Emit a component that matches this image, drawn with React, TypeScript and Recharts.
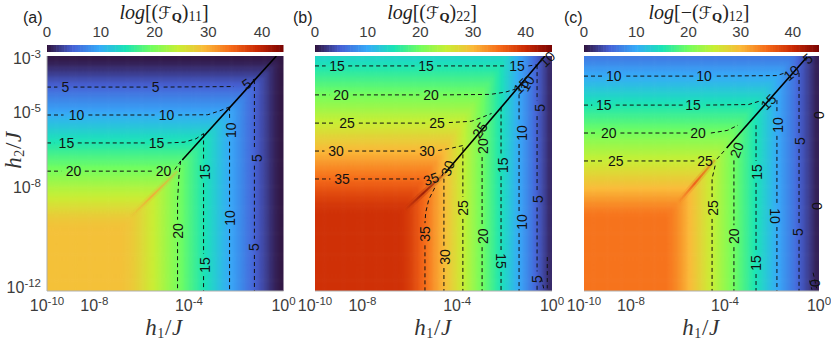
import { ComposedChart, Line, Scatter, XAxis, YAxis } from 'recharts'

// colormap stops (turbo)
const turboStops = ['#30123b', '#4662d7', '#36aaf9', '#1ae4b6', '#72fe5e', '#c8ef34', '#faba39', '#f66b19', '#cb2a04', '#7a0403']

const xTicks = [-10, -8, -4, 0]
const yTicks = [-12, -8, -5, -3]
const barTicks = [0, 10, 20, 30, 40]

// cell centres of the heat map, log10(h1/J) and log10(h2/J)
const h1Columns = [
  -9.9, -9.7, -9.5, -9.3, -9.1, -8.9, -8.7, -8.5, -8.3, -8.1, -7.9, -7.7, -7.5, -7.3, -7.1, -6.9, -6.7, -6.5, -6.3, -6.1, -5.9, -5.7, -5.5, -5.3, -5.1,
  -4.9, -4.7, -4.5, -4.3, -4.1, -3.9, -3.7, -3.5, -3.3, -3.1, -2.9, -2.7, -2.5, -2.3, -2.1, -1.9, -1.7, -1.5, -1.3, -1.1, -0.9, -0.7, -0.5, -0.3, -0.1,
]
const h2Rows = [
  -3.1, -3.3, -3.5, -3.7, -3.9, -4.1, -4.3, -4.5, -4.7, -4.9, -5.1, -5.3, -5.5, -5.7, -5.9, -6.1, -6.3, -6.5, -6.7, -6.9, -7.1, -7.3, -7.5,
  -7.7, -7.9, -8.1, -8.3, -8.5, -8.7, -8.9, -9.1, -9.3, -9.5, -9.7, -9.9, -10.1, -10.3, -10.5, -10.7, -10.9, -11.1, -11.3, -11.5, -11.7, -11.9,
]

const columnValuesA = [
  28.7, 28.7, 28.7, 28.7, 28.7, 28.7, 28.7, 28.7, 28.7, 28.7, 28.7, 28.7, 28.7, 28.7, 28.7, 28.7, 28.5, 28.2, 27.7, 27, 26.2, 25.4, 24.6, 23.7, 22.8,
  21.9, 21, 20.1, 19.2, 18.2, 17.3, 16.4, 15.5, 14.5, 13.6, 12.7, 11.7, 10.8, 9.9, 9, 8.1, 7.2, 6.2, 5.3, 4.4, 3.5, 2.6, 1.6, 0.8, 0.3,
]
const rowValuesA = [
  0.4, 0.9, 1.8, 2.7, 3.7, 4.6, 5.5, 6.5, 7.4, 8.3, 9.2, 10.2, 11.1, 12, 13, 13.9, 14.8, 15.7, 16.7, 17.6, 18.5, 19.5, 20.4,
  21.3, 22.2, 23.2, 24, 24.9, 25.8, 26.7, 27.5, 28.1, 28.5, 28.7, 28.7, 28.7, 28.7, 28.7, 28.7, 28.7, 28.7, 28.7, 28.7, 28.7, 28.7,
]
const columnValuesB = [
  39.5, 39.5, 39.5, 39.5, 39.5, 39.5, 39.5, 39.5, 39.5, 39.5, 39.5, 39.5, 39.5, 39.5, 39.5, 39.5, 39.5, 39.5, 39.3, 38.8, 38, 37, 35.8, 34.6, 33.4,
  32.1, 30.9, 29.6, 28.4, 27.2, 25.9, 24.7, 23.4, 22.2, 20.9, 19.7, 18.4, 17.2, 15.9, 14.6, 13.3, 12, 10.7, 9.4, 8.1, 6.8, 5.4, 4.1, 2.9, 1.5,
]
const rowValuesB = [
  13.7, 14.6, 15.5, 16.5, 17.4, 18.3, 19.2, 20.2, 21.1, 22, 22.9, 23.9, 24.8, 25.7, 26.6, 27.6, 28.5, 29.4, 30.3, 31.2, 32.2, 33.1, 34,
  34.9, 35.9, 36.8, 37.6, 38.3, 38.9, 39.3, 39.5, 39.5, 39.5, 39.5, 39.5, 39.5, 39.5, 39.5, 39.5, 39.5, 39.5, 39.5, 39.5, 39.5, 39.5,
]
const columnValuesC = [
  34.5, 34.5, 34.5, 34.5, 34.5, 34.5, 34.5, 34.5, 34.5, 34.5, 34.5, 34.5, 34.5, 34.5, 34.5, 34.5, 34.5, 34.5, 34, 33.3, 32.3, 31.2, 30, 29, 27.9,
  26.8, 25.7, 24.7, 23.6, 22.5, 21.5, 20.4, 19.3, 18.2, 17.2, 16.1, 15.1, 14, 12.9, 11.9, 10.8, 9.7, 8.6, 7.6, 6.5, 5.3, 4.2, 3.1, 2, 0.9,
]
const rowValuesC = [
  6.9, 7.8, 8.8, 9.7, 10.6, 11.5, 12.5, 13.4, 14.3, 15.3, 16.2, 17.1, 18, 19, 19.9, 20.8, 21.8, 22.7, 23.6, 24.5, 25.5, 26.4, 27.3,
  28.2, 29.1, 30, 31, 32, 33, 33.8, 34.3, 34.5, 34.5, 34.5, 34.5, 34.5, 34.5, 34.5, 34.5, 34.5, 34.5, 34.5, 34.5, 34.5, 34.5,
]

// black boundary and the bright ridge below it, [log h1, log h2]
const boundaryA = [[-4.28, -6.98], [-0.3, -3]]
const boundaryB = [[-4.51, -7.48], [-0.3, -3]]
const boundaryC = [[-3.93, -6.52], [-0.51, -3.04]]
const ridgeA = [[-6.47, -9.17], [-4.48, -7.41]]
const ridgeB = [[-6.2, -8.9], [-4.51, -7.48]]
const ridgeC = [[-6, -8.63], [-4.43, -6.98]]

// dashed contour pieces, broken where the labels sit
const contoursA = [
  [[-10, -4.19], [-9.56, -4.19]], [[-8.88, -4.19], [-5.75, -4.19]], [[-5.07, -4.19], [-2.1, -4.17]], [[-1.3, -3.92], [-1.23, -3.88]],
  [[-10, -5.26], [-9.3, -5.26]], [[-8.25, -5.26], [-5.45, -5.26]], [[-4.45, -5.26], [-3.2, -5.25], [-2.7, -5.1], [-2.28, -4.95]],
  [[-10, -6.33], [-9.7, -6.33]], [[-8.7, -6.33], [-5.85, -6.33]], [[-4.9, -6.33], [-4.2, -6.3], [-3.7, -6.17], [-3.38, -5.97]],
  [[-10, -7.41], [-9.4, -7.41]], [[-8.4, -7.41], [-5.55, -7.41]], [[-4.6, -7.35], [-4.35, -7.02]],
  [[-1.23, -3.92], [-1.23, -6.6]], [[-1.23, -7.2], [-1.23, -10]], [[-1.23, -10.62], [-1.23, -12]],
  [[-2.28, -4.95], [-2.28, -5.4]], [[-2.28, -6.28], [-2.28, -8.77]], [[-2.28, -9.63], [-2.28, -12]],
  [[-3.38, -5.97], [-3.38, -7]], [[-3.38, -7.87], [-3.38, -10.57]], [[-3.38, -11.43], [-3.38, -12]],
  [[-4.35, -7.02], [-4.42, -7.6], [-4.48, -8.5], [-4.48, -9.27]], [[-4.48, -10.13], [-4.48, -12]],
]
const contoursB = [
  [[-10, -3.38], [-9.55, -3.38]], [[-8.6, -3.38], [-5.8, -3.38]], [[-4.85, -3.38], [-1.95, -3.38]], [[-1, -3.38], [-0.65, -3.34]],
  [[-10, -4.49], [-9.4, -4.49]], [[-8.4, -4.49], [-5.6, -4.49]], [[-4.6, -4.49], [-2.6, -4.47], [-1.95, -4.38], [-1.55, -4.27]],
  [[-10, -5.57], [-9.15, -5.57]], [[-8.15, -5.57], [-5.35, -5.57]], [[-4.35, -5.55], [-3.4, -5.5], [-2.9, -5.33], [-2.55, -5.2]],
  [[-10, -6.64], [-9.6, -6.64]], [[-8.6, -6.64], [-5.75, -6.64]], [[-4.8, -6.62], [-4.2, -6.52], [-3.67, -6.41]],
  [[-10, -7.71], [-9.35, -7.71]], [[-8.35, -7.71], [-5.6, -7.71]], [[-4.65, -7.6], [-4.6, -7.5]],
  [[-4.95, -8.05], [-5.2, -8.5], [-5.33, -9], [-5.36, -9.4]], [[-5.36, -10.25], [-5.36, -12]],
  [[-4.56, -7.7], [-4.56, -10.28]], [[-4.56, -11.12], [-4.56, -12]],
  [[-3.76, -6.5], [-3.76, -8.4]], [[-3.76, -9.24], [-3.76, -12]],
  [[-2.95, -5.82], [-2.95, -6.03]], [[-2.95, -6.87], [-2.95, -9.48]], [[-2.95, -10.32], [-2.95, -12]],
  [[-2.15, -4.97], [-2.15, -6.76]], [[-2.15, -7.6], [-2.15, -10.43]], [[-2.15, -11.27], [-2.15, -12]],
  [[-1.39, -4.2], [-1.39, -5.53]], [[-1.39, -6.37], [-1.39, -8.94]], [[-1.39, -9.78], [-1.39, -12]],
  [[-0.63, -3.35], [-0.63, -4.7]], [[-0.63, -5.3], [-0.63, -8.2]], [[-0.63, -8.8], [-0.63, -11.25]], [[-0.63, -11.8], [-0.63, -12]],
  [[-0.2, -10.7], [-0.2, -11.9]], [[-0.45, -11.5], [-0.35, -11.9]],
]
const contoursC = [
  [[-10, -3.77], [-9.2, -3.77]], [[-8.2, -3.77], [-5.35, -3.77]], [[-4.35, -3.77], [-1.8, -3.75], [-1.45, -3.65]],
  [[-10, -4.88], [-9.65, -4.88]], [[-8.65, -4.88], [-5.8, -4.88]], [[-4.8, -4.88], [-3, -4.86], [-2.5, -4.72]],
  [[-10, -5.95], [-9.45, -5.95]], [[-8.45, -5.95], [-5.6, -5.95]], [[-4.6, -5.95], [-3.9, -5.85], [-3.45, -5.65]],
  [[-10, -7.02], [-9.15, -7.02]], [[-8.15, -7.02], [-5.3, -7.02]], [[-4.35, -6.95], [-4.2, -6.8], [-4, -6.6]],
  [[-4.42, -7.2], [-4.55, -7.7], [-4.55, -8.4]], [[-4.55, -9.24], [-4.55, -12]],
  [[-3.62, -7], [-3.62, -9.48]], [[-3.62, -10.32], [-3.62, -12]],
  [[-2.68, -5.65], [-2.68, -7.02]], [[-2.68, -7.86], [-2.68, -10.5]], [[-2.68, -11.35], [-2.68, -12]],
  [[-1.79, -4.69], [-1.79, -5.22]], [[-1.79, -6.06], [-1.79, -8.71]], [[-1.79, -9.55], [-1.79, -12]],
  [[-0.85, -3.65], [-0.85, -5.96]], [[-0.85, -6.56], [-0.85, -9.44]], [[-0.85, -10.04], [-0.85, -12]],
  [[-0.25, -11.3], [-0.1, -11.9]], [[-0.4, -11.6], [-0.3, -11.95]],
]

// contour labels: log h1, log h2, text, rotation
const labelsA: [number, number, string, number][] = [
  [-9.22, -4.19, '5', 0], [-5.41, -4.19, '5', 0], [-1.56, -4.07, '5', -35],
  [-8.75, -5.26, '10', 0], [-4.95, -5.26, '10', 0],
  [-9.18, -6.33, '15', 0], [-5.37, -6.33, '15', 0],
  [-8.88, -7.41, '20', 0], [-5.07, -7.39, '20', 0],
  [-1.14, -6.91, '5', -90], [-1.26, -10.32, '5', -90],
  [-2.2, -5.84, '10', -90], [-2.28, -9.2, '10', -90],
  [-3.3, -7.44, '15', -90], [-3.3, -11, '15', -90],
  [-4.44, -9.7, '20', -90],
]
const labelsB: [number, number, string, number][] = [
  [-9.07, -3.38, '15', 0], [-5.32, -3.38, '15', 0], [-1.48, -3.38, '15', 0],
  [-8.9, -4.49, '20', 0], [-5.1, -4.49, '20', 0],
  [-8.65, -5.57, '25', 0], [-4.85, -5.57, '25', 0],
  [-9.11, -6.64, '30', 0], [-5.27, -6.64, '30', 0],
  [-8.86, -7.71, '35', 0], [-5.1, -7.71, '35', -20],
  [-0.2, -3.12, '10', -45], [-1.3, -4.15, '15', -45], [-1.05, -4.05, '10', -60],
  [-3.04, -5.84, '25', -55], [-4.4, -7.3, '30', -70],
  [-5.36, -9.82, '35', -90], [-4.5, -10.7, '30', -90], [-3.76, -8.82, '25', -90],
  [-2.9, -6.45, '20', -90], [-2.9, -9.9, '20', -90],
  [-2.07, -7.18, '15', -90], [-2.15, -10.85, '15', 90],
  [-1.25, -5.95, '10', -90], [-1.25, -9.36, '10', -90],
  [-0.5, -4.99, '5', -90], [-0.6, -8.48, '5', -90], [-0.63, -11.54, '5', -90],
]
const labelsC: [number, number, string, number][] = [
  [-8.72, -3.77, '10', 0], [-4.85, -3.77, '10', 0], [-1.1, -3.65, '10', -40],
  [-9.15, -4.88, '15', 0], [-5.32, -4.88, '15', 0], [-2.09, -4.76, '15', -45],
  [-8.94, -5.95, '20', 0], [-5.11, -5.95, '20', 0], [-3.45, -6.6, '20', -70],
  [-8.64, -7.02, '25', 0], [-4.81, -7.02, '25', 0],
  [-4.47, -8.82, '25', -90], [-3.55, -9.9, '20', -90],
  [-2.6, -7.44, '15', -90], [-2.64, -10.93, '15', -90],
  [-1.66, -5.64, '10', -90], [-1.79, -9.13, '10', 90],
  [-0.72, -6.26, '5', -90], [-0.8, -9.74, '5', -90],
  [-0.4, -3.1, '5', -40], [0.08, -5.26, '0', -90], [0, -8.75, '0', -90], [-0.08, -11.7, '0', -90],
]

const PLOT_TOP = 56
const PLOT_HEIGHT = 235
const BAR_TOP = 45
const BAR_HEIGHT = 7
const EDGE_BLEED = 6

const tickColor = '#3c3c3c'
const sansFont = '"Liberation Sans", Arial, sans-serif'
const serifFont = '"Liberation Serif", "DejaVu Serif", serif'

function turbo(value: number, max: number) {
  const t = Math.max(0, Math.min(0.9999, value / max)) * (turboStops.length - 1)
  const i = Math.floor(t)
  const f = t - i
  const hex = (s: string, p: number) => parseInt(s.slice(p, p + 2), 16)
  const mix = (p: number) => Math.round(hex(turboStops[i], p) * (1 - f) + hex(turboStops[i + 1], p) * f)
  return `rgb(${mix(1)},${mix(3)},${mix(5)})`
}

const toRows = (points: number[][]) => points.map(([x, y]) => ({ x, y }))

function LogTickX({ x, y, payload }: any) {
  return (
    <text x={x} y={y + 12} textAnchor="middle" fill={tickColor} fontFamily={sansFont} fontSize={16}>
      10<tspan dy={-6} fontSize={11.5}>{payload.value}</tspan>
    </text>
  )
}

function LogTickY({ x, y, payload }: any) {
  const shift = payload.value === -12 ? -2 : payload.value === -3 ? 4 : payload.value === -5 ? 6 : 2
  return (
    <text x={x + 2} y={y + shift + 4} textAnchor="end" fill={tickColor} fontFamily={sansFont} fontSize={16}>
      10<tspan dy={-6} fontSize={11.5}>{payload.value}</tspan>
    </text>
  )
}

function ContourLabel({ cx, cy, payload }: any) {
  return (
    <text
      x={cx}
      y={cy}
      dy={5}
      textAnchor="middle"
      fontFamily={sansFont}
      fontSize={14}
      fill="#111"
      transform={`rotate(${payload.angle} ${cx} ${cy})`}
    >
      {payload.text}
    </text>
  )
}

interface PanelProps {
  id: string
  left: number
  width: number
  columnValues: number[]
  rowValues: number[]
  contours: number[][][]
  boundary: number[][]
  ridge: number[][]
  ridgeColor: string
  labels: [number, number, string, number][]
  barMax: number
  colorMax: number
  showY?: boolean
}

function Panel({ id, left, width, columnValues, rowValues, contours, boundary, ridge, ridgeColor, labels, barMax, colorMax, showY }: PanelProps) {
  const cells = rowValues.flatMap((rowValue, r) =>
    columnValues.map((columnValue, c) => ({ x: h1Columns[c], y: h2Rows[r], v: Math.min(columnValue, rowValue), r, c }))
  )
  const cellW = width / h1Columns.length + 0.6
  const cellH = PLOT_HEIGHT / h2Rows.length + 0.6
  const labelRows = labels.map(([x, y, text, angle]) => ({ x, y, text, angle }))
  const barCells = Array.from({ length: 91 }, (_, i) => ({ x: i / 2, y: 0.5 }))
  const barCellW = (width / barMax) * 0.5 + 0.6
  const yGutter = 50
  const lastRow = h2Rows.length - 1
  const lastColumn = h1Columns.length - 1

  return (
    <>
      {/* colour bar */}
      <div style={{ position: 'absolute', left: left - yGutter, top: 0 }}>
        <ComposedChart
          width={width + yGutter + 20}
          height={BAR_TOP + BAR_HEIGHT + 1}
          margin={{ top: 0, right: 20, bottom: 1, left: yGutter }}
        >
          <XAxis
            xAxisId="bar"
            orientation="top"
            type="number"
            dataKey="x"
            domain={[0, barMax]}
            ticks={barTicks}
            height={BAR_TOP}
            tickLine={false}
            axisLine={false}
            allowDataOverflow
            tick={{ fill: tickColor, fontFamily: sansFont, fontSize: 15 }}
          />
          <YAxis yAxisId="bar" type="number" domain={[0, 1]} hide />
          <Scatter
            xAxisId="bar"
            yAxisId="bar"
            data={barCells.filter((cell) => cell.x <= barMax)}
            dataKey="y"
            isAnimationActive={false}
            shape={({ cx, payload }: any) => (
              <rect x={cx - barCellW / 2} y={BAR_TOP} width={barCellW} height={BAR_HEIGHT} fill={turbo(payload.x, colorMax)} />
            )}
          />
        </ComposedChart>
      </div>

      {/* heat map */}
      <div style={{ position: 'absolute', left: left - yGutter, top: 0 }}>
        <ComposedChart
          width={width + yGutter + 20}
          height={343}
          margin={{ top: PLOT_TOP, right: 20, bottom: 22, left: showY ? 0 : yGutter }}
        >
          <defs>
            <linearGradient id={`ridge-${id}`} x1="0" y1="1" x2="1" y2="0">
              <stop offset="0%" stopColor={ridgeColor} stopOpacity={0} />
              <stop offset="45%" stopColor={ridgeColor} stopOpacity={0.75} />
              <stop offset="100%" stopColor={ridgeColor} stopOpacity={0.3} />
            </linearGradient>
          </defs>
          <XAxis
            type="number"
            dataKey="x"
            domain={[-10, 0]}
            ticks={xTicks}
            height={30}
            tickLine={false}
            axisLine={{ stroke: '#b0b0b0' }}
            interval={0}
            allowDataOverflow
            tick={LogTickX}
          />
          <YAxis
            type="number"
            dataKey="y"
            domain={[-12, -3]}
            ticks={yTicks}
            width={yGutter}
            hide={!showY}
            tickLine={false}
            axisLine={{ stroke: '#b0b0b0' }}
            interval={0}
            allowDataOverflow
            tick={LogTickY}
          />
          {/* same scales without clipping, the contour labels may stick out of the plot */}
          <XAxis xAxisId="free" type="number" dataKey="x" domain={[-10, 0]} hide />
          <YAxis yAxisId="free" type="number" dataKey="y" domain={[-12, -3]} hide />
          <Scatter
            className="soft-heat"
            data={cells}
            dataKey="y"
            isAnimationActive={false}
            zIndex={50}
            shape={({ cx, cy, payload }: any) => {
              const x0 = cx - cellW / 2 - (payload.c === 0 ? EDGE_BLEED : 0)
              const x1 = cx + cellW / 2 + (payload.c === lastColumn ? EDGE_BLEED : 0)
              const y0 = cy - cellH / 2 - (payload.r === 0 ? EDGE_BLEED : 0)
              const y1 = cy + cellH / 2 + (payload.r === lastRow ? EDGE_BLEED : 0)
              return <rect x={x0} y={y0} width={x1 - x0} height={y1 - y0} fill={turbo(payload.v, colorMax)} />
            }}
          />
          <Line className="soft-ridge" data={toRows(ridge)} dataKey="y" stroke={`url(#ridge-${id})`} strokeWidth={6} strokeOpacity={0.3} dot={false} isAnimationActive={false} />
          <Line className="soft-ridge" data={toRows(ridge)} dataKey="y" stroke={`url(#ridge-${id})`} strokeWidth={2} dot={false} isAnimationActive={false} />
          {contours.map((piece, i) => (
            <Line
              key={i}
              data={toRows(piece)}
              dataKey="y"
              stroke="#111"
              strokeWidth={1}
              strokeDasharray="4 3"
              dot={false}
              isAnimationActive={false}
            />
          ))}
          <Line data={toRows(boundary)} dataKey="y" stroke="#000" strokeWidth={1.6} dot={false} isAnimationActive={false} />
          <Scatter xAxisId="free" yAxisId="free" data={labelRows} dataKey="y" isAnimationActive={false} shape={ContourLabel} />
        </ComposedChart>
      </div>
    </>
  )
}

function Title({ x, sub, minus }: { x: number; sub: string; minus?: boolean }) {
  return (
    <text x={x} y={19} textAnchor="middle" fontFamily={serifFont} fontSize={20} fill="#222">
      <tspan fontStyle="italic">log</tspan>[{minus ? '−' : ''}(<tspan fontFamily='"DejaVu Sans"' fontStyle="italic" fontSize={17}>ℱ</tspan>
      <tspan dy={2} fontSize={13} fontWeight="bold">Q</tspan>
      <tspan dy={-2}>)</tspan>
      <tspan dy={2} fontSize={14}>{sub}</tspan>
      <tspan dy={-2}>]</tspan>
    </text>
  )
}

function AxisName({ x, y, rotate, name }: { x: number; y: number; rotate?: number; name: string }) {
  return (
    <text x={x} y={y} textAnchor="middle" fontFamily={serifFont} fontSize={23} fill="#333" letterSpacing={0.6} transform={rotate ? `rotate(${rotate} ${x} ${y})` : undefined}>
      <tspan fontStyle="italic">h</tspan>
      <tspan dy={3} fontSize={14}>{name}</tspan>
      <tspan dy={-3}>/</tspan>
      <tspan fontStyle="italic">J</tspan>
    </text>
  )
}

export default function App() {
  return (
    <div style={{ position: 'absolute', left: 0, top: 0, width: 831, height: 343, overflow: 'hidden', background: '#fff' }}>
      <style>{`.soft-heat { filter: blur(1.6px); } .soft-ridge { filter: blur(0.7px); }`}</style>
      <Panel id="a" left={46.5} width={236.5} columnValues={columnValuesA} rowValues={rowValuesA} contours={contoursA} boundary={boundaryA} ridge={ridgeA} ridgeColor="#f8a03a" labels={labelsA} barMax={44} colorMax={44} showY />
      <Panel id="b" left={315} width={237} columnValues={columnValuesB} rowValues={rowValuesB} contours={contoursB} boundary={boundaryB} ridge={ridgeB} ridgeColor="#8b1004" labels={labelsB} barMax={45} colorMax={45} />
      <Panel id="c" left={584} width={235} columnValues={columnValuesC} rowValues={rowValuesC} contours={contoursC} boundary={boundaryC} ridge={ridgeC} ridgeColor="#ee4a14" labels={labelsC} barMax={45} colorMax={45} />
      <svg width={831} height={343} style={{ position: 'absolute', left: 0, top: 0, pointerEvents: 'none' }}>
        <text x={23} y={23} fontFamily={sansFont} fontSize={16} fill="#222">(a)</text>
        <text x={293} y={23} fontFamily={sansFont} fontSize={16} fill="#222">(b)</text>
        <text x={564} y={23} fontFamily={sansFont} fontSize={16} fill="#222">(c)</text>
        <Title x={164} sub="11" />
        <Title x={432} sub="22" />
        <Title x={699} sub="12" minus />
        <AxisName x={164} y={335} name="1" />
        <AxisName x={433} y={335} name="1" />
        <AxisName x={701} y={335} name="1" />
        <AxisName x={21} y={150} rotate={-90} name="2" />
      </svg>
    </div>
  )
}
